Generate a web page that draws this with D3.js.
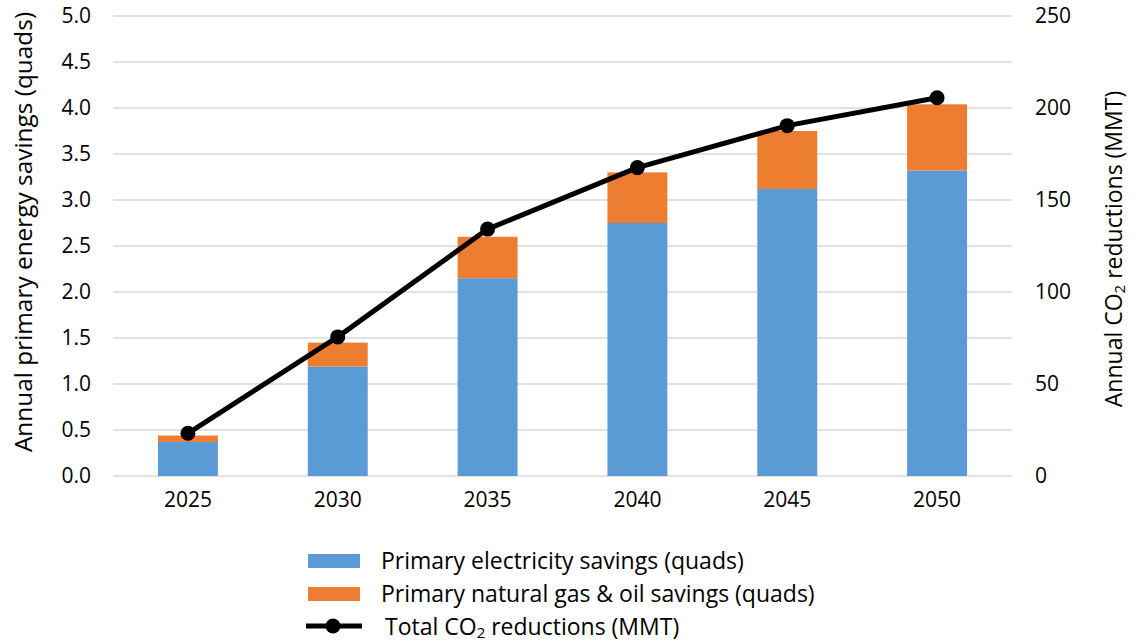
<!DOCTYPE html>
<html>
<head>
    <script src="https://d3js.org/d3.v7.min.js"></script>
    <style>
        body { margin: 0; background: #fff; }
        text { font-family: "Open Sans", sans-serif; fill: #000; }
    </style>
</head>
<body>
    <script>
        // Data
        var years = ["2025", "2030", "2035", "2040", "2045", "2050"];
        var electricity = [0.37, 1.19, 2.15, 2.75, 3.12, 3.32];
        var gasOil = [0.07, 0.26, 0.45, 0.55, 0.63, 0.72];
        var co2 = [23.2, 75.6, 134.2, 167.6, 190.4, 205.6];
        var leftTicks = [0, 0.5, 1, 1.5, 2, 2.5, 3, 3.5, 4, 4.5, 5];
        var rightTicks = [0, 50, 100, 150, 200, 250];

        var blue = "#5b9bd5", orange = "#ed7d31";
        var width = 1132, height = 642;
        var plotLeft = 113, plotRight = 1012, plotTop = 16, plotBottom = 476;
        var numSize = "21px", textSize = "23px";

        var svg = d3.select("body").append("svg")
            .attr("width", width)
            .attr("height", height);

        var x = d3.scaleBand().domain(years).range([plotLeft, plotRight]).paddingInner(0.6).paddingOuter(0.3);
        var y = d3.scaleLinear().domain([0, 5]).range([plotBottom, plotTop]);
        var y2 = d3.scaleLinear().domain([0, 250]).range([plotBottom, plotTop]);

        // gridlines
        svg.append("g").selectAll("line")
            .data(leftTicks)
            .enter().append("line")
            .attr("x1", plotLeft).attr("x2", plotRight)
            .attr("y1", function (d) { return y(d); })
            .attr("y2", function (d) { return y(d); })
            .style("stroke", "#d9d9d9")
            .style("stroke-width", 1.5);

        // left axis
        var leftAxis = svg.append("g")
            .attr("transform", "translate(" + (plotLeft - 22) + ",0)")
            .call(d3.axisLeft(y).tickValues(leftTicks).tickFormat(d3.format(".1f")).tickSize(0).tickPadding(0));
        leftAxis.select(".domain").remove();
        leftAxis.selectAll("text").style("font-size", numSize).style("font-family", "'Open Sans', sans-serif");

        // right axis
        var rightAxis = svg.append("g")
            .attr("transform", "translate(" + (plotRight + 23) + ",0)")
            .call(d3.axisRight(y2).tickValues(rightTicks).tickSize(0).tickPadding(0));
        rightAxis.select(".domain").remove();
        rightAxis.selectAll("text").style("font-size", numSize).style("font-family", "'Open Sans', sans-serif");

        // x axis labels
        var xAxis = svg.append("g")
            .attr("transform", "translate(0," + (plotBottom + 16) + ")")
            .call(d3.axisBottom(x).tickSize(0).tickPadding(0));
        xAxis.select(".domain").remove();
        xAxis.selectAll("text").style("font-size", numSize).style("font-family", "'Open Sans', sans-serif");

        // stacked bars
        var bars = svg.append("g").selectAll("g")
            .data(years)
            .enter().append("g");
        bars.append("rect")
            .attr("x", function (d) { return x(d); })
            .attr("width", x.bandwidth())
            .attr("y", function (d, i) { return y(electricity[i]); })
            .attr("height", function (d, i) { return y(0) - y(electricity[i]); })
            .style("fill", blue);
        bars.append("rect")
            .attr("x", function (d) { return x(d); })
            .attr("width", x.bandwidth())
            .attr("y", function (d, i) { return y(electricity[i] + gasOil[i]); })
            .attr("height", function (d, i) { return y(electricity[i]) - y(electricity[i] + gasOil[i]); })
            .style("fill", orange);

        // CO2 line
        var line = d3.line()
            .x(function (d, i) { return x(years[i]) + x.bandwidth() / 2; })
            .y(function (d) { return y2(d); });
        svg.append("path")
            .datum(co2)
            .attr("d", line)
            .style("fill", "none")
            .style("stroke", "#000")
            .style("stroke-width", 5)
            .style("stroke-linejoin", "round");
        svg.append("g").selectAll("circle")
            .data(co2)
            .enter().append("circle")
            .attr("cx", function (d, i) { return x(years[i]) + x.bandwidth() / 2; })
            .attr("cy", function (d) { return y2(d); })
            .attr("r", 7.5)
            .style("fill", "#000");

        // axis titles
        svg.append("text")
            .attr("transform", "translate(22," + 232 + ") rotate(-90)")
            .attr("text-anchor", "middle")
            .attr("dominant-baseline", "central")
            .style("font-size", "24.4px")
            .text("Annual primary energy savings (quads)");

        var rt = svg.append("text")
            .attr("transform", "translate(1113," + 249 + ") rotate(-90)")
            .attr("text-anchor", "middle")
            .attr("dominant-baseline", "central")
            .style("font-size", textSize);
        rt.append("tspan").text("Annual CO");
        rt.append("tspan").text("2").style("font-size", "15px").attr("dy", 6);
        rt.append("tspan").text(" reductions (MMT)").attr("dy", -6);

        // legend
        var lg = svg.append("g");
        lg.append("rect").attr("x", 308).attr("y", 554).attr("width", 52).attr("height", 14).style("fill", blue);
        lg.append("rect").attr("x", 308).attr("y", 587).attr("width", 52).attr("height", 14).style("fill", orange);
        lg.append("line").attr("x1", 306).attr("x2", 362).attr("y1", 626).attr("y2", 626)
            .style("stroke", "#000").style("stroke-width", 5);
        lg.append("circle").attr("cx", 333).attr("cy", 626).attr("r", 7.5).style("fill", "#000");

        lg.append("text").attr("x", 381).attr("y", 560).attr("dominant-baseline", "central")
            .style("font-size", textSize).text("Primary electricity savings (quads)");
        lg.append("text").attr("x", 381).attr("y", 593).attr("dominant-baseline", "central")
            .style("font-size", textSize).text("Primary natural gas & oil savings (quads)");
        var lt = lg.append("text").attr("x", 385).attr("y", 626).attr("dominant-baseline", "central")
            .style("font-size", textSize);
        lt.append("tspan").text("Total CO");
        lt.append("tspan").text("2").style("font-size", "15px").attr("dy", 6);
        lt.append("tspan").text(" reductions (MMT)").attr("dy", -6);
    </script>
</body>
</html>
